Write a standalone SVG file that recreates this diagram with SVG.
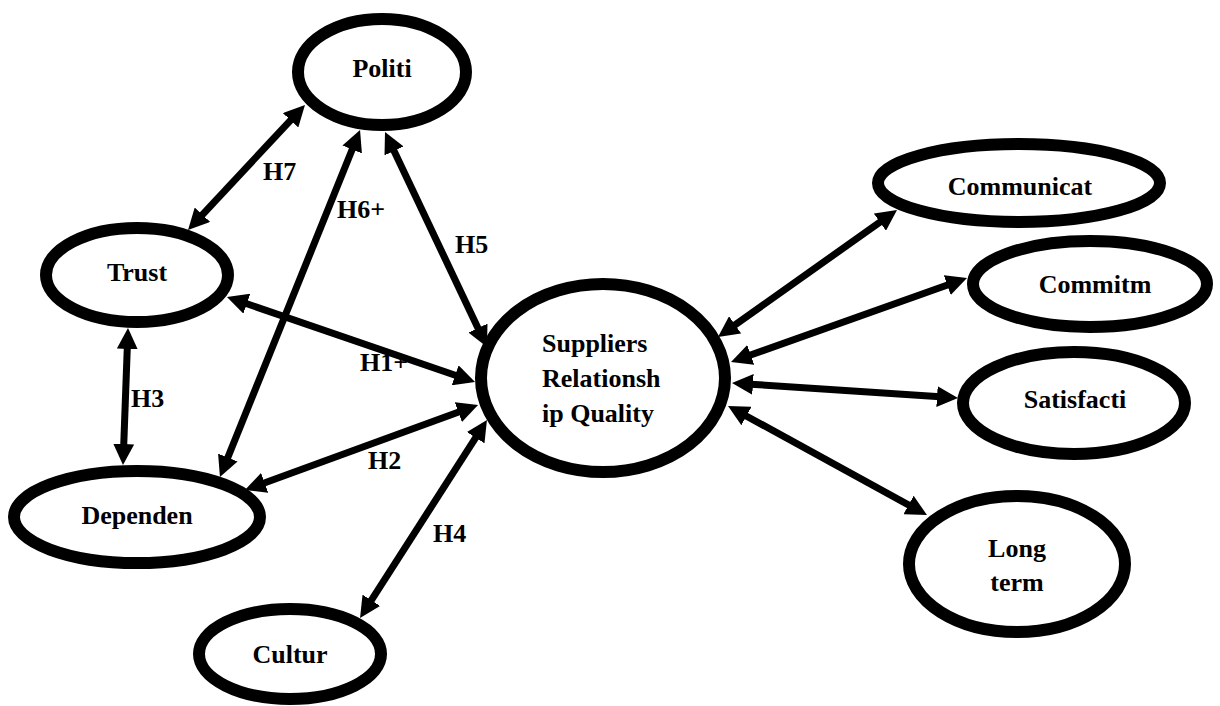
<svg xmlns="http://www.w3.org/2000/svg" width="1220" height="706" viewBox="0 0 1220 706">
<style>
.n{fill:#fff;stroke:#000;stroke-width:12}
text{font-family:'Liberation Serif','Times New Roman',serif;font-weight:700;font-size:26px;fill:#000}
.c{text-anchor:middle}
.e{stroke:#000;stroke-width:7;fill:none;marker-start:url(#ah);marker-end:url(#ah)}
</style>
<defs>
<marker id="ah" viewBox="0 0 3 3" refX="1" refY="1.5" markerWidth="3" markerHeight="3" markerUnits="strokeWidth" orient="auto-start-reverse">
<path d="M0,0 L3,1.5 L0,3 z" fill="#000"/>
</marker>
</defs>
<rect width="1220" height="706" fill="#fff"/>
<g id="connectors">
<line class="e" x1="295.4" y1="115.2" x2="197.6" y2="219.8"/>
<line class="e" x1="354.8" y1="143.0" x2="225.2" y2="464.0"/>
<line class="e" x1="391.0" y1="144.6" x2="481.0" y2="334.4"/>
<line class="e" x1="240.2" y1="301.5" x2="461.8" y2="377.5"/>
<line class="e" x1="127.5" y1="342.0" x2="123.5" y2="451.0"/>
<line class="e" x1="258.1" y1="485.2" x2="464.9" y2="409.8"/>
<line class="e" x1="367.6" y1="606.2" x2="479.4" y2="431.8"/>
<line class="e" x1="729.4" y1="328.9" x2="885.6" y2="218.1"/>
<line class="e" x1="744.2" y1="357.3" x2="953.8" y2="282.7"/>
<line class="e" x1="746.0" y1="383.9" x2="944.0" y2="397.1"/>
<line class="e" x1="740.3" y1="412.7" x2="914.7" y2="508.3"/>
<text x="263" y="180">H7</text>
<text x="337" y="218">H6+</text>
<text x="455" y="253">H5</text>
<text x="360" y="371">H1+</text>
<text x="131" y="407">H3</text>
<text x="368" y="469">H2</text>
<text x="433" y="542">H4</text>
</g>
<g id="politi"><ellipse class="n" cx="382" cy="72" rx="84" ry="53"/><text class="c" x="382" y="77">Politi</text></g>
<g id="trust"><ellipse class="n" cx="137" cy="275" rx="91" ry="47"/><text class="c" x="137" y="281">Trust</text></g>
<g id="dependen"><ellipse class="n" cx="137" cy="517" rx="123" ry="46"/><text class="c" x="137" y="524">Dependen</text></g>
<g id="cultur"><ellipse class="n" cx="290" cy="654" rx="91" ry="45"/><text class="c" x="290" y="663">Cultur</text></g>
<g id="srq"><ellipse class="n" cx="603" cy="378" rx="122" ry="94"/>
<text x="542" y="352">Suppliers</text>
<text x="542" y="387">Relationsh</text>
<text x="542" y="422">ip Quality</text></g>
<g id="communicat"><ellipse class="n" cx="1019" cy="183" rx="141" ry="39"/><text class="c" x="1020" y="195">Communicat</text></g>
<g id="commitm"><ellipse class="n" cx="1090" cy="284" rx="117" ry="43"/><text class="c" x="1095" y="293">Commitm</text></g>
<g id="satisfacti"><ellipse class="n" cx="1074" cy="403" rx="111" ry="51"/><text class="c" x="1075" y="408">Satisfacti</text></g>
<g id="longterm"><ellipse class="n" cx="1017" cy="564" rx="108" ry="68"/><text class="c" x="1017" y="557">Long</text><text class="c" x="1017" y="591">term</text></g>
</svg>
